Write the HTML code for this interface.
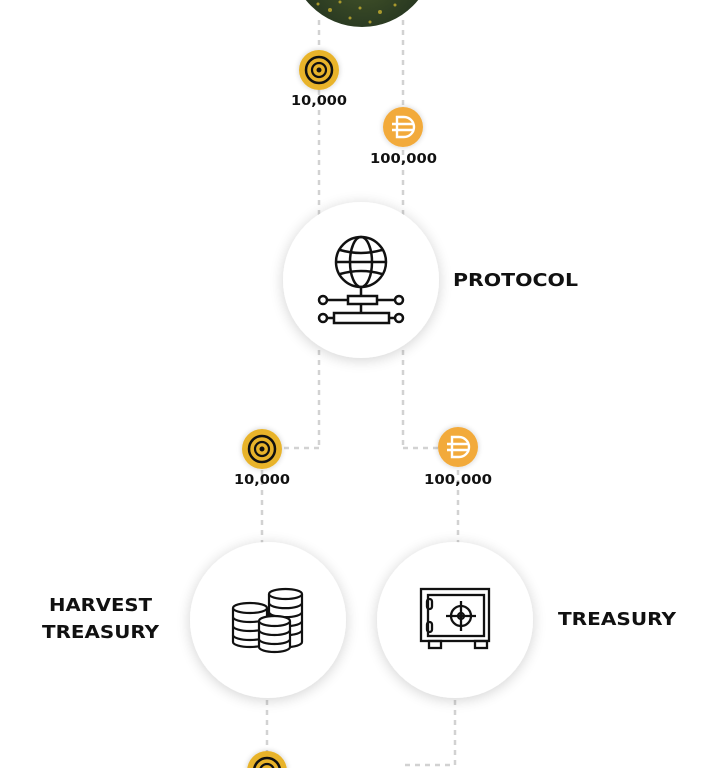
<!DOCTYPE html>
<html><head><meta charset="utf-8"><style>
html,body{margin:0;padding:0;background:#fff;width:720px;height:768px;overflow:hidden}
text{font-family:"DejaVu Sans","Liberation Sans",sans-serif;font-weight:bold;fill:#111}
</style></head><body>
<svg width="720" height="768" viewBox="0 0 720 768">
<defs>
<filter id="sh" x="-30%" y="-30%" width="160%" height="160%"><feGaussianBlur in="SourceAlpha" stdDeviation="7"/><feOffset dy="2"/><feComponentTransfer><feFuncA type="linear" slope="0.18"/></feComponentTransfer><feMerge><feMergeNode/><feMergeNode in="SourceGraphic"/></feMerge></filter>
<filter id="sh2" x="-50%" y="-50%" width="200%" height="200%"><feGaussianBlur in="SourceAlpha" stdDeviation="3"/><feComponentTransfer><feFuncA type="linear" slope="0.2"/></feComponentTransfer><feMerge><feMergeNode/><feMergeNode in="SourceGraphic"/></feMerge></filter>
<radialGradient id="img" cx="50%" cy="60%" r="60%"><stop offset="0" stop-color="#4a5a2a"/><stop offset="0.7" stop-color="#2a3a22"/><stop offset="1" stop-color="#1a2420"/></radialGradient>
<g id="c1"><circle r="20" fill="#e8b32c" filter="url(#sh2)"/><circle r="13" fill="none" stroke="#111" stroke-width="2.5"/><circle r="7" fill="none" stroke="#111" stroke-width="2.2"/><circle r="2.5" fill="#111"/></g>
<g id="c2"><circle r="20" fill="#f2aa3a" filter="url(#sh2)"/><path d="M-6 -10 H1 A10 10 0 0 1 1 10 H-6 Z M-11 -3 H11 M-11 3 H11" fill="none" stroke="#fff" stroke-width="2.4"/></g>
</defs>
<g fill="none" stroke="#d2d2d2" stroke-width="2.5" stroke-dasharray="5 5">
<path d="M319 20 V450"/><path d="M403 20 V450"/>
<path d="M319 448 H282"/><path d="M403 448 H440"/>
<path d="M262 450 V560"/><path d="M458 450 V560"/>
<path d="M267 690 V768"/><path d="M455 690 V765 H400"/>
</g>
<circle cx="362" cy="-45" r="72" fill="url(#img)"/>
<g fill="#c8b030" opacity="0.8"><circle cx="330" cy="10" r="2"/><circle cx="350" cy="18" r="1.5"/><circle cx="380" cy="12" r="2"/><circle cx="395" cy="5" r="1.5"/><circle cx="340" cy="2" r="1.5"/><circle cx="370" cy="22" r="1.5"/><circle cx="360" cy="8" r="1.5"/><circle cx="318" cy="4" r="1.5"/></g>
<use href="#c1" x="319" y="70"/><text x="291" y="105" font-size="13" textLength="56" lengthAdjust="spacingAndGlyphs">10,000</text>
<use href="#c2" x="403" y="127"/><text x="370" y="163" font-size="13" textLength="67" lengthAdjust="spacingAndGlyphs">100,000</text>
<circle cx="361" cy="280" r="78" fill="#fff" filter="url(#sh)"/>
<g fill="none" stroke="#111" stroke-width="2.5">
<circle cx="361" cy="262" r="25"/><ellipse cx="361" cy="262" rx="11" ry="25"/><path d="M336 262 H386 M340 250 Q361 256 382 250 M340 274 Q361 268 382 274"/>
<path d="M361 287 V296 M361 304 V313"/>
<rect x="348" y="296" width="29" height="8"/><rect x="334" y="313" width="55" height="10"/>
<path d="M327 300 H348 M377 300 H395 M327 318 H334 M389 318 H395"/>
<circle cx="323" cy="300" r="4"/><circle cx="399" cy="300" r="4"/><circle cx="323" cy="318" r="4"/><circle cx="399" cy="318" r="4"/>
</g>
<text x="453" y="286" font-size="18" textLength="125" lengthAdjust="spacingAndGlyphs" font-weight="600">PROTOCOL</text>
<use href="#c1" x="262" y="449"/><text x="234" y="484" font-size="13" textLength="56" lengthAdjust="spacingAndGlyphs">10,000</text>
<use href="#c2" x="458" y="447"/><text x="424" y="484" font-size="13" textLength="68" lengthAdjust="spacingAndGlyphs">100,000</text>
<circle cx="268" cy="620" r="78" fill="#fff" filter="url(#sh)"/>
<circle cx="455" cy="620" r="78" fill="#fff" filter="url(#sh)"/>
<g fill="#fff" stroke="#111" stroke-width="2.2">
<path d="M269 594 V642 A16 5 0 0 0 302 642 V594"/><ellipse cx="285.5" cy="594" rx="16.5" ry="5"/>
<path d="M269 603 A16 5 0 0 0 302 603 M269 612 A16 5 0 0 0 302 612 M269 621 A16 5 0 0 0 302 621 M269 630 A16 5 0 0 0 302 630" fill="none"/>
<path d="M233 608 V642 A17 5 0 0 0 267 642 V608"/><ellipse cx="250" cy="608" rx="17" ry="5"/>
<path d="M233 617 A17 5 0 0 0 267 617 M233 626 A17 5 0 0 0 267 626 M233 635 A17 5 0 0 0 267 635" fill="none"/>
<path d="M259 621 V647 A15.5 5 0 0 0 290 647 V621"/><ellipse cx="274.5" cy="621" rx="15.5" ry="5"/>
<path d="M259 630 A15.5 5 0 0 0 290 630 M259 639 A15.5 5 0 0 0 290 639" fill="none"/>
</g>
<g fill="none" stroke="#111" stroke-width="2.3">
<rect x="421" y="589" width="68" height="52"/><rect x="428" y="595" width="56" height="41"/>
<rect x="429" y="641" width="12" height="7"/><rect x="475" y="641" width="12" height="7"/>
<rect x="427" y="599" width="5" height="10" rx="2.5"/><rect x="427" y="622" width="5" height="10" rx="2.5"/>
<circle cx="461" cy="616" r="10"/><circle cx="461" cy="616" r="3"/><path d="M461 601 V631 M446 616 H476"/>
</g>
<text x="49" y="611" font-size="18" textLength="103" lengthAdjust="spacingAndGlyphs" font-weight="600">HARVEST</text>
<text x="42" y="638" font-size="18" textLength="117" lengthAdjust="spacingAndGlyphs" font-weight="600">TREASURY</text>
<text x="558" y="625" font-size="18" textLength="118" lengthAdjust="spacingAndGlyphs" font-weight="600">TREASURY</text>
<use href="#c1" x="267" y="771"/>
</svg>
</body></html>
